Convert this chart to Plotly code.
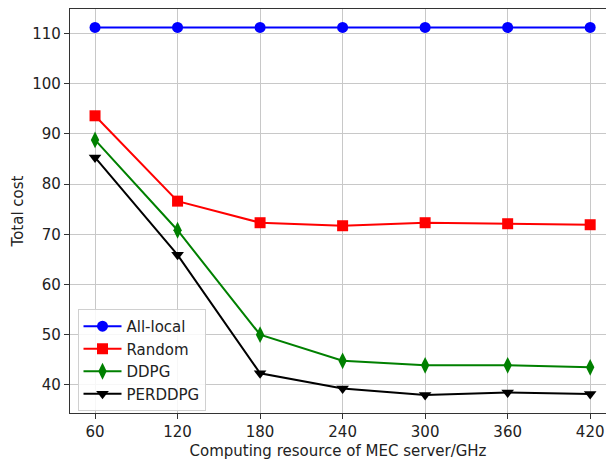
import plotly.graph_objects as go

x_vals = [60, 120, 180, 240, 300, 360, 420]
all_local = [111.2, 111.2, 111.2, 111.2, 111.2, 111.2, 111.2]
random_v = [93.6, 76.6, 72.3, 71.7, 72.3, 72.1, 71.9]
ddpg = [88.8, 70.8, 50.0, 44.8, 43.9, 43.9, 43.5]
perddpg = [85.3, 65.9, 42.3, 39.3, 38.0, 38.5, 38.2]

series = [
    ("All-local", all_local, "#0000ff", "circle", 11),
    ("Random", random_v, "#ff0000", "square", 11),
    ("DDPG", ddpg, "#008000", "diamond-tall", 12),
    ("PERDDPG", perddpg, "#000000", "triangle-down", 11),
]

fig = go.Figure()
for name, ys, col, sym, sz in series:
    fig.add_trace(go.Scatter(
        x=x_vals, y=ys, name=name, mode="lines+markers",
        line=dict(color=col, width=2),
        marker=dict(symbol=sym, size=sz, color=col, line=dict(width=0)),
    ))

font = "DejaVu Sans, sans-serif"
fig.update_layout(
    width=606, height=461,
    margin=dict(l=70, r=0, t=9, b=48),
    paper_bgcolor="white", plot_bgcolor="white",
    font=dict(family=font, size=15, color="#222"),
    showlegend=True,
    legend=dict(
        x=0.014, y=0.005, xanchor="left", yanchor="bottom",
        bgcolor="rgba(255,255,255,0.85)", bordercolor="#d0d0d0", borderwidth=1,
        font=dict(family=font, size=15, color="#222"),
        tracegroupgap=0, itemwidth=38,
    ),
    xaxis=dict(
        range=[41.8, 431.5],
        tickvals=x_vals, ticktext=[str(v) for v in x_vals],
        showgrid=True, gridcolor="#c8c8c8", gridwidth=1.2,
        showline=True, linecolor="#333", linewidth=1.3, mirror=True,
        ticks="outside", ticklen=5, tickcolor="#333",
        zeroline=False,
        title=dict(text="Computing resource of MEC server/GHz", standoff=5,
                   font=dict(family=font, size=15)),
    ),
    yaxis=dict(
        range=[34.4, 114.87],
        tickvals=[40, 50, 60, 70, 80, 90, 100, 110],
        showgrid=True, gridcolor="#c8c8c8", gridwidth=1.2,
        showline=True, linecolor="#333", linewidth=1.3, mirror=False,
        ticks="outside", ticklen=5, tickcolor="#333",
        zeroline=False,
        title=dict(text="Total cost", standoff=4,
                   font=dict(family=font, size=15)),
    ),
)

fig.write_html("out.html")
